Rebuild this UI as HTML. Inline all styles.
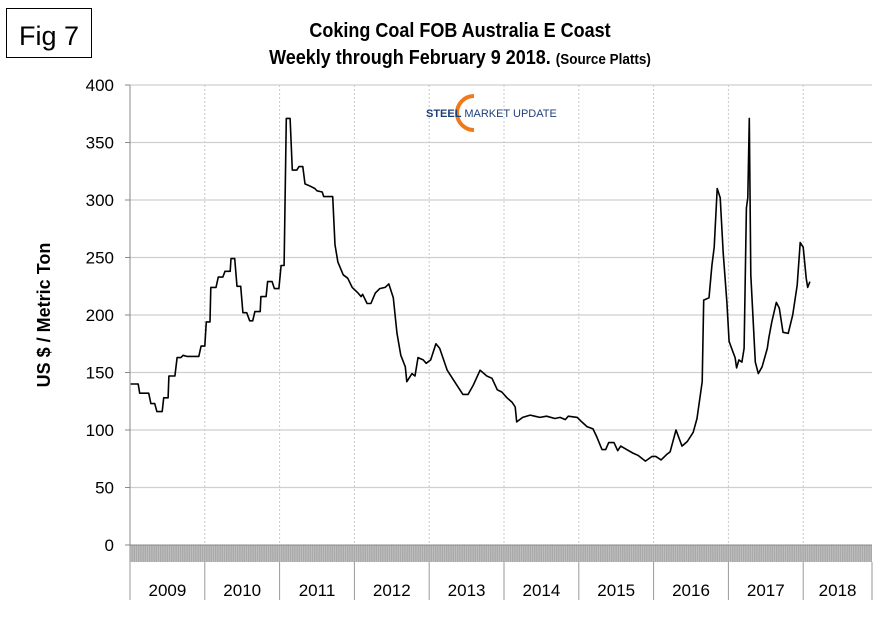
<!DOCTYPE html>
<html><head><meta charset="utf-8"><style>
body{margin:0;background:#fff;}
svg text{font-family:"Liberation Sans",Arial,sans-serif;}
</style></head><body>
<svg id="chart" width="884" height="622" viewBox="0 0 884 622" xmlns="http://www.w3.org/2000/svg">
<rect x="0" y="0" width="884" height="622" fill="#fff"/>
<rect x="6.5" y="8.5" width="85" height="49" fill="#fff" stroke="#000" stroke-width="1"/>
<text x="49" y="45" font-size="27" text-anchor="middle">Fig 7</text>
<g transform="translate(460,0) scale(0.9,1)">
<text x="0" y="37" font-size="20" font-weight="bold" text-anchor="middle">Coking Coal FOB Australia E Coast</text>
<text x="0" y="64" font-size="20" font-weight="bold" text-anchor="middle">Weekly through February 9 2018. <tspan font-size="15">(Source Platts)</tspan></text>
</g>
<text transform="translate(50,315) rotate(-90)" font-size="18" font-weight="bold" text-anchor="middle">US $ / Metric Ton</text>
<g id="grid"></g>
<g>
<path d="M474,96 A17,17 0 1 0 474,130" fill="none" stroke="#f07a1a" stroke-width="4"/>
<text x="426" y="117" font-size="11" font-weight="bold" fill="#1f3f7a">STEEL <tspan font-weight="normal">MARKET UPDATE</tspan></text>
</g>
<g id="series"></g>
</svg>
<script>
const yTicks=[0,50,100,150,200,250,300,350,400];
const yearLabels=["2009","2010","2011","2012","2013","2014","2015","2016","2017","2018"];
const dates=[0.01,0.11,0.13,0.25,0.28,0.33,0.36,0.43,0.45,0.51,0.52,0.60,0.63,0.68,0.71,0.76,0.92,0.95,1.00,1.02,1.07,1.08,1.15,1.18,1.24,1.27,1.34,1.35,1.40,1.43,1.48,1.51,1.56,1.60,1.64,1.67,1.74,1.75,1.82,1.84,1.90,1.93,1.99,2.02,2.06,2.09,2.14,2.17,2.23,2.26,2.31,2.34,2.41,2.47,2.50,2.57,2.59,2.71,2.74,2.78,2.85,2.91,2.97,3.05,3.09,3.11,3.17,3.22,3.28,3.34,3.41,3.46,3.52,3.57,3.62,3.68,3.70,3.77,3.81,3.85,3.92,3.96,4.02,4.09,4.14,4.24,4.34,4.45,4.52,4.59,4.68,4.77,4.84,4.91,4.97,5.04,5.11,5.15,5.17,5.25,5.35,5.41,5.48,5.57,5.68,5.75,5.82,5.86,5.98,6.04,6.11,6.19,6.24,6.31,6.36,6.40,6.47,6.52,6.56,6.64,6.72,6.79,6.89,6.98,7.03,7.10,7.18,7.22,7.30,7.38,7.45,7.53,7.58,7.65,7.67,7.74,7.78,7.81,7.85,7.89,7.93,7.98,8.01,8.06,8.09,8.11,8.14,8.18,8.21,8.24,8.26,8.28,8.30,8.36,8.40,8.45,8.52,8.54,8.58,8.64,8.68,8.73,8.80,8.86,8.92,8.96,9.00,9.04,9.06,9.09];
const prices=[140,140,132,132,123,123,116,116,128,128,147,147,163,163,165,164,164,173,173,194,194,224,224,233,233,238,238,249,249,225,225,202,202,195,195,203,203,216,216,229,229,223,223,243,243,371,371,326,326,329,329,314,312,310,308,307,303,303,261,246,235,232,224,219,216,218,210,210,219,223,224,227,215,184,165,155,142,149,147,163,161,158,161,175,171,152,142,131,131,139,152,147,145,135,133,128,124,120,107,111,113,112,111,112,110,111,109,112,111,107,103,101,94,83,83,89,89,82,86,83,80,78,73,77,77,74,79,81,100,86,90,98,110,142,213,215,243,259,310,302,254,211,177,168,163,154,161,159,171,293,302,371,235,159,149,155,171,180,194,211,206,185,184,200,226,263,259,232,224,229];
const NS="http://www.w3.org/2000/svg";
const L=130,R=872,T=85,B=545,YW=74.8;
const yS=v=>B-(v/400)*(B-T);
const xS=d=>L+d*YW;
function mk(tag,attrs,parent){const e=document.createElementNS(NS,tag);for(const k in attrs)e.setAttribute(k,attrs[k]);parent.appendChild(e);return e;}
const g=document.getElementById('grid');
yearLabels.forEach((lab,i)=>{
  const x=xS(i);
  if(i>0){const vl=mk('line',{x1:x,x2:x,y1:T,y2:B,stroke:'#c8c8c8','stroke-dasharray':'2,2','stroke-width':1},g);
  
  }
});
yTicks.forEach(v=>{
  const y=yS(v);
  if(v>0){const hl=mk('line',{x1:L,x2:R,y1:y,y2:y,stroke:'#cfcfcf','stroke-width':1.2},g);
  
  }
  const tk=mk('line',{x1:L-5,x2:L,y1:y,y2:y,stroke:'#888'},g);
  
  
  const t=mk('text',{x:L-16,y:y+6,'font-size':17,'text-anchor':'end'},g);
  t.textContent=v;
  
  
});
const ax=mk('line',{x1:L,x2:L,y1:T,y2:600,stroke:'#888'},g);


const band=mk('rect',{x:L,y:B,width:R-L,height:17,fill:'#a9a9a9'},g);


for(let x=L+1;x<R;x+=2.2){mk('line',{x1:x,x2:x,y1:B,y2:B+17,stroke:'#c4c4c4','stroke-width':0.8},g);}
const zl=mk('line',{x1:L,x2:R,y1:B,y2:B,stroke:'#888'},g);


yearLabels.forEach((lab,i)=>{
  const x=xS(i);
  const sep=mk('line',{x1:x,x2:x,y1:B+17,y2:600,stroke:'#999'},g);
  
  
  const cx=Math.min(x+YW/2,(x+R)/2);
  const t=mk('text',{x:cx,y:596,'font-size':17,'text-anchor':'middle'},g);
  t.textContent=lab;
  
  
});
const er=mk('line',{x1:R,x2:R,y1:B+17,y2:600,stroke:'#999'},g);


const s=document.getElementById('series');
const pts=dates.map((d,i)=>xS(d).toFixed(1)+','+yS(prices[i]).toFixed(1)).join(' ');
const pl=mk('polyline',{points:pts,fill:'none',stroke:'#000','stroke-width':1.6,'stroke-linejoin':'round'},s);


</script>
</body></html>
